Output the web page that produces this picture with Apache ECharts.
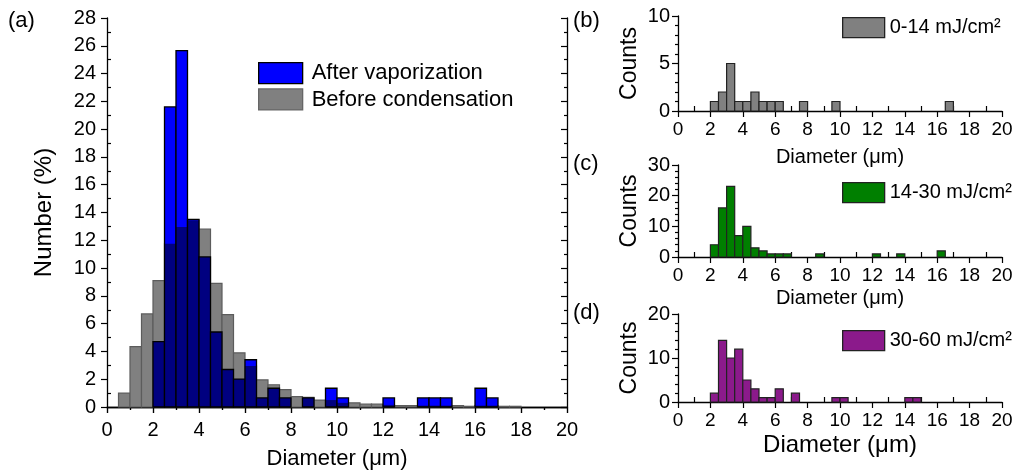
<!DOCTYPE html>
<html>
<head>
<meta charset="utf-8">
<script src="https://cdn.jsdelivr.net/npm/echarts@6/dist/echarts.min.js"></script>
<style>
  html, body { margin: 0; padding: 0; background: #fff; }
  #chart { width: 1016px; height: 475px; }
</style>
</head>
<body>
<div id="chart"></div>
<script>
// bin width of every histogram (µm)
const binWidth = 0.5;

// (a) main panel, left edge of each bin and number (%)
const mainBins = [0.5, 1.0, 1.5, 2.0, 2.5, 3.0, 3.5, 4.0, 4.5, 5.0, 5.5, 6.0, 6.5, 7.0, 7.5, 8.0, 8.5, 9.0,
  9.5, 10.0, 10.5, 11.0, 11.5, 12.0, 12.5, 13.0, 13.5, 14.0, 14.5, 15.0, 15.5, 16.0, 16.5, 17.0, 17.5];
const beforeCondensation = [1.0, 4.35, 6.7, 9.1, 11.75, 12.95, 13.45, 12.8, 8.9, 6.65, 3.9, 2.95, 1.95, 1.6, 1.25, 0.75, 0.7, 0.5,
  0.5, 0.3, 0.3, 0.2, 0.2, 0.15, 0.1, 0.1, 0.1, 0.1, 0.1, 0.1, 0.05, 0.1, 0.1, 0.05, 0.05];
const afterVaporization = [0, 0, 0, 4.7, 21.6, 25.65, 13.5, 10.8, 5.4, 2.7, 2.0, 3.4, 0.65, 1.35, 0.65, 0, 0.65, 0,
  1.35, 0.65, 0, 0, 0, 0.65, 0, 0, 0.65, 0.65, 0.65, 0, 0, 1.35, 0.65, 0, 0];

// (b) 0-14 mJ/cm2
const binsB = [2.0, 2.5, 3.0, 3.5, 4.0, 4.5, 5.0, 5.5, 6.0, 7.5, 9.5, 16.5];
const countsB = [1, 2, 5, 1, 1, 2, 1, 1, 1, 1, 1, 1];
// (c) 14-30 mJ/cm2
const binsC = [2.0, 2.5, 3.0, 3.5, 4.0, 4.5, 5.0, 5.5, 6.0, 6.5, 8.5, 12.0, 13.5, 16.0];
const countsC = [4, 16, 23, 7, 10, 3, 2, 1, 1, 1, 1, 1, 1, 2];
// (d) 30-60 mJ/cm2
const binsD = [2.0, 2.5, 3.0, 3.5, 4.0, 4.5, 5.0, 5.5, 6.0, 7.0, 9.5, 10.0, 14.0, 14.5];
const countsD = [2, 14, 10, 12, 5, 3, 1, 1, 3, 2, 1, 1, 1, 1];

const FONT = 'Liberation Sans, Arial, sans-serif';

const myChart = echarts.init(document.getElementById('chart'), null, { renderer: 'canvas' });

function pairs(bins, vals) {
  return bins.map((b, i) => [b, vals[i]]);
}

function binRect(api, x0, v) {
  const p0 = api.coord([x0, v]);
  const p1 = api.coord([x0 + binWidth, 0]);
  return { x: p0[0], y: p0[1], width: p1[0] - p0[0], height: p1[1] - p0[1] };
}

// simple filled histogram
function histRender(fill, stroke) {
  return function (params, api) {
    const v = api.value(1);
    if (!v) return;
    return {
      type: 'rect',
      shape: binRect(api, api.value(0), v),
      style: { fill: fill, stroke: stroke, lineWidth: 1.2 }
    };
  };
}

// blue bars; where they overlap the grey ones the overlap shows navy
function afterRender(params, api) {
  const x0 = api.value(0), v = api.value(1), g = api.value(2);
  if (!v) return;
  const ov = Math.min(v, g);
  const children = [
    { type: 'rect', shape: binRect(api, x0, v), style: { fill: '#0000ff', stroke: null } }
  ];
  if (ov > 0) {
    children.push({ type: 'rect', shape: binRect(api, x0, ov), style: { fill: '#000080', stroke: null } });
  }
  children.push({ type: 'rect', shape: binRect(api, x0, v), style: { fill: 'none', stroke: '#000', lineWidth: 1.3 } });
  return { type: 'group', children: children };
}

const axisLine = { show: true, lineStyle: { color: '#000', width: 1.3 } };
const axisLabel = { color: '#000', fontFamily: FONT, fontSize: 20 };
const tickStyle = { color: '#000', width: 1.2 };

// x axis pair for a small panel: labelled major ticks outward, minor ticks inward
function smallX(gridIndex, nameSize, nameGap) {
  return [
    {
      gridIndex: gridIndex, type: 'value', min: 0, max: 20, interval: 2, position: 'bottom',
      axisLine: axisLine, axisTick: { show: true, length: 6, lineStyle: tickStyle },
      axisLabel: Object.assign({}, axisLabel, { margin: 9, fontSize: 19 }),
      splitLine: { show: false },
      name: 'Diameter (μm)', nameLocation: 'middle', nameGap: nameGap,
      nameTextStyle: { color: '#000', fontFamily: FONT, fontSize: nameSize }
    },
    {
      gridIndex: gridIndex, type: 'value', min: 0, max: 20, interval: 2, position: 'bottom',
      axisLine: { show: false }, axisLabel: { show: false }, splitLine: { show: false },
      axisTick: { show: false, inside: true },
      minorTick: { show: true, splitNumber: 2, length: 5, lineStyle: tickStyle }
    }
  ];
}

function smallY(gridIndex, max, interval) {
  return {
    gridIndex: gridIndex, type: 'value', min: 0, max: max, interval: interval,
    axisLine: axisLine, axisTick: { show: true, length: 6, lineStyle: tickStyle },
    minorTick: { show: true, splitNumber: 5, length: 3, lineStyle: tickStyle },
    axisLabel: Object.assign({}, axisLabel, { margin: 8 }),
    splitLine: { show: false },
    name: 'Counts', nameLocation: 'middle', nameGap: 37,
    nameTextStyle: { color: '#000', fontFamily: FONT, fontSize: 23 }
  };
}

const legendText = { color: '#000', fontFamily: FONT, fontSize: 22, padding: [0, 0, 0, 4] };
const smallLegendText = { color: '#000', fontFamily: FONT, fontSize: 20 };

const option = {
  animation: false,
  backgroundColor: '#fff',
  grid: [
    { left: 107, right: 449, top: 18, bottom: 64 },
    { left: 678, right: 14, top: 16, bottom: 364 },
    { left: 678, right: 14, top: 165, bottom: 218 },
    { left: 678, right: 14, top: 314, bottom: 73 }
  ],
  legend: [
    {
      left: 258, top: 62, orient: 'vertical', itemWidth: 44, itemHeight: 21, itemGap: 4, padding: 0,
      textStyle: legendText, selectedMode: false,
      data: [
        { name: 'After vaporization', icon: 'rect', itemStyle: { color: '#0000ff', borderColor: '#000', borderWidth: 1.3 } },
        { name: 'Before condensation', icon: 'rect', itemStyle: { color: '#808080', borderColor: '#666', borderWidth: 1.3 } }
      ]
    },
    {
      left: 842, top: 17, itemWidth: 42, itemHeight: 20, padding: 0, textStyle: smallLegendText, selectedMode: false,
      data: [{ name: '0-14 mJ/cm²', icon: 'rect', itemStyle: { color: '#808080', borderColor: '#222', borderWidth: 1.3 } }]
    },
    {
      left: 842, top: 182, itemWidth: 42, itemHeight: 20, padding: 0, textStyle: smallLegendText, selectedMode: false,
      data: [{ name: '14-30 mJ/cm²', icon: 'rect', itemStyle: { color: '#007f00', borderColor: '#222', borderWidth: 1.3 } }]
    },
    {
      left: 842, top: 330, itemWidth: 42, itemHeight: 20, padding: 0, textStyle: smallLegendText, selectedMode: false,
      data: [{ name: '30-60 mJ/cm²', icon: 'rect', itemStyle: { color: '#8b1a8b', borderColor: '#222', borderWidth: 1.3 } }]
    }
  ],
  xAxis: [
    {
      gridIndex: 0, type: 'value', min: 0, max: 20, interval: 2, position: 'bottom',
      axisLine: axisLine, axisTick: { show: true, length: 6, lineStyle: tickStyle },
      minorTick: { show: true, splitNumber: 2, length: 3, lineStyle: tickStyle },
      axisLabel: Object.assign({}, axisLabel, { margin: 13 }),
      splitLine: { show: false },
      name: 'Diameter (μm)', nameLocation: 'middle', nameGap: 41,
      nameTextStyle: { color: '#000', fontFamily: FONT, fontSize: 22 }
    },
    {
      gridIndex: 0, type: 'value', min: 0, max: 20, interval: 2, position: 'top',
      axisLine: axisLine, axisLabel: { show: false }, splitLine: { show: false },
      axisTick: { show: true, inside: true, length: 6, lineStyle: tickStyle },
      minorTick: { show: true, splitNumber: 2, length: 3, lineStyle: tickStyle }
    }
  ].concat(smallX(1, 20, 36), smallX(2, 20, 31), smallX(3, 24, 31)),
  yAxis: [
    {
      gridIndex: 0, type: 'value', min: 0, max: 28, interval: 2, position: 'left',
      axisLine: axisLine, axisTick: { show: true, length: 6, lineStyle: tickStyle },
      axisLabel: Object.assign({}, axisLabel, { margin: 11 }),
      splitLine: { show: false },
      name: 'Number (%)', nameLocation: 'middle', nameGap: 51,
      nameTextStyle: { color: '#000', fontFamily: FONT, fontSize: 24 }
    },
    {
      gridIndex: 0, type: 'value', min: 0, max: 28, interval: 2, position: 'left',
      axisLine: { show: false }, axisLabel: { show: false }, splitLine: { show: false },
      axisTick: { show: false, inside: true },
      minorTick: { show: true, splitNumber: 2, length: 4, lineStyle: tickStyle }
    },
    {
      gridIndex: 0, type: 'value', min: 0, max: 28, interval: 2, position: 'right',
      axisLine: axisLine, axisLabel: { show: false }, splitLine: { show: false },
      axisTick: { show: true, inside: true, length: 6, lineStyle: tickStyle },
      minorTick: { show: true, splitNumber: 2, length: 3, lineStyle: tickStyle }
    },
    smallY(1, 10, 5),
    smallY(2, 30, 10),
    smallY(3, 20, 10)
  ],
  series: [
    {
      name: 'Before condensation', type: 'custom', xAxisIndex: 0, yAxisIndex: 0, z: 2,
      renderItem: histRender('#808080', '#5c5c5c'),
      itemStyle: { color: '#808080' },
      encode: { x: 0, y: 1 },
      data: pairs(mainBins, beforeCondensation)
    },
    {
      name: 'After vaporization', type: 'custom', xAxisIndex: 0, yAxisIndex: 0, z: 3,
      renderItem: afterRender,
      itemStyle: { color: '#0000ff' },
      encode: { x: 0, y: 1 },
      data: mainBins.map((b, i) => [b, afterVaporization[i], beforeCondensation[i]])
    },
    {
      name: '0-14 mJ/cm²', type: 'custom', xAxisIndex: 2, yAxisIndex: 3,
      renderItem: histRender('#808080', '#222'), itemStyle: { color: '#808080' },
      encode: { x: 0, y: 1 }, data: pairs(binsB, countsB)
    },
    {
      name: '14-30 mJ/cm²', type: 'custom', xAxisIndex: 4, yAxisIndex: 4,
      renderItem: histRender('#007f00', '#222'), itemStyle: { color: '#007f00' },
      encode: { x: 0, y: 1 }, data: pairs(binsC, countsC)
    },
    {
      name: '30-60 mJ/cm²', type: 'custom', xAxisIndex: 6, yAxisIndex: 5,
      renderItem: histRender('#8b1a8b', '#222'), itemStyle: { color: '#8b1a8b' },
      encode: { x: 0, y: 1 }, data: pairs(binsD, countsD)
    }
  ],
  graphic: [
    { type: 'text', left: 8, top: 10, style: { text: '(a)', font: '22px ' + FONT, fill: '#000' } },
    { type: 'text', left: 573, top: 10, style: { text: '(b)', font: '22px ' + FONT, fill: '#000' } },
    { type: 'text', left: 573, top: 153, style: { text: '(c)', font: '22px ' + FONT, fill: '#000' } },
    { type: 'text', left: 573, top: 302, style: { text: '(d)', font: '22px ' + FONT, fill: '#000' } }
  ]
};

myChart.setOption(option);
</script>
</body>
</html>
